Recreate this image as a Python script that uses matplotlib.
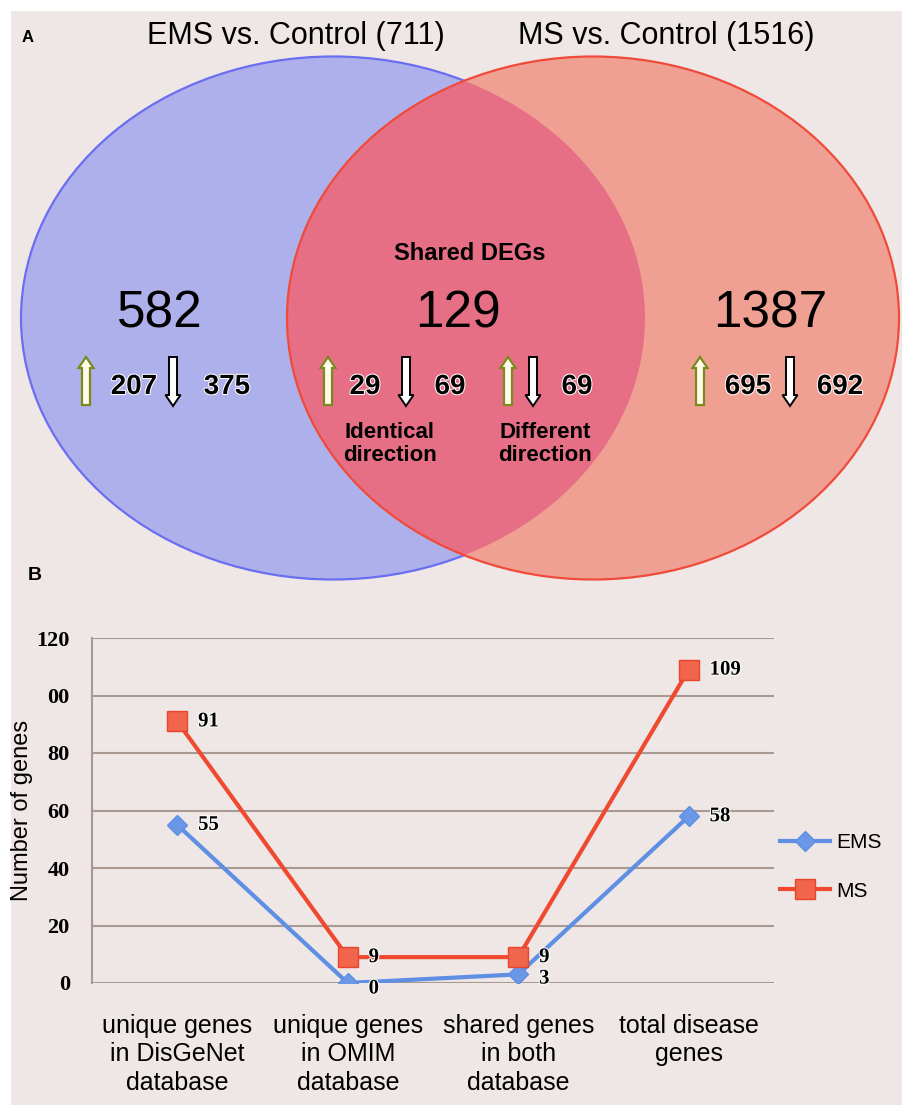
import matplotlib.pyplot as plt
import matplotlib.patheffects as pe
from matplotlib.patches import Ellipse, FancyArrow, Rectangle

# Venn counts (panel A)
ems_title = "EMS vs. Control (711)"
ms_title = "MS vs. Control (1516)"
ems_only = 582
shared = 129
ms_only = 1387
ems_up, ems_down = 207, 375
same_up, same_down = 29, 69
diff_count = 69
ms_up, ms_down = 695, 692

# Disease gene counts (panel B)
categories = ["unique genes\nin DisGeNet\ndatabase",
              "unique genes\nin OMIM\ndatabase",
              "shared genes\nin both\ndatabase",
              "total disease\ngenes"]
ems_genes = [55, 0, 3, 58]
ms_genes = [91, 9, 9, 109]
yticks = [0, 20, 40, 60, 80, 100, 120]
ytick_labels = ["0", "20", "40", "60", "80", "00", "120"]

sans = ["Liberation Sans", "DejaVu Sans"]
serif = ["Liberation Serif", "DejaVu Serif"]
halo = [pe.withStroke(linewidth=1.5, foreground="white")]

W, H = 903, 1105
fig = plt.figure(figsize=(W / 100, H / 100), dpi=100, facecolor="white")
fig.patches.append(Rectangle((11 / W, 0), 1, 1 - 11 / H, transform=fig.transFigure,
                             facecolor="#efe6e6", edgecolor="none", zorder=-10))

# ---- panel A: Venn diagram, drawn in pixel units ----
ax = fig.add_axes([0, 0, 1, 1])
ax.set_xlim(0, W)
ax.set_ylim(H, 0)
ax.axis("off")

blue = Ellipse((333, 318), 624, 523, facecolor="#adb0ea", edgecolor="#6a6ef0", lw=1.6, zorder=1)
red = Ellipse((593, 318), 612, 523, facecolor="#efa093", edgecolor="none", zorder=2)
overlap = Ellipse((593, 318), 612, 523, facecolor="#e56a84", edgecolor="none", alpha=0.9, zorder=3)
red_edge = Ellipse((593, 318), 612, 523, facecolor="none", edgecolor="#f04b3a", lw=1.6, zorder=4)
for p in (blue, red, overlap, red_edge):
    ax.add_patch(p)
overlap.set_clip_path(Ellipse((333, 318), 624, 523, transform=ax.transData))

ax.text(28, 38, "A", fontsize=12, fontweight="bold", family=sans, ha="center", va="center")
ax.text(296, 36, ems_title, fontsize=22, family=sans, ha="center", va="center")
ax.text(666, 36, ms_title, fontsize=22, family=sans, ha="center", va="center")

ax.text(470, 253, "Shared DEGs", fontsize=17, fontweight="bold", family=sans,
        ha="center", va="center", zorder=6)
for x, n in ((160, ems_only), (458, shared), (770, ms_only)):
    ax.text(x, 314, str(n), fontsize=37, family=sans, ha="center", va="center", zorder=6)


def up_arrow(x):
    ax.add_patch(FancyArrow(x, 405, 0, -48, width=8, head_width=15, head_length=11,
                            length_includes_head=True, facecolor="#fffbea",
                            edgecolor="#7a8a1e", lw=1.6, zorder=6))


def down_arrow(x):
    ax.add_patch(FancyArrow(x, 357, 0, 49, width=8, head_width=15, head_length=11,
                            length_includes_head=True, facecolor="white",
                            edgecolor="black", lw=1.4, zorder=6))


for x in (86, 328, 508, 700):
    up_arrow(x)
for x in (173, 406, 533, 790):
    down_arrow(x)

for x, n in ((134, ems_up), (227, ems_down), (365, same_up), (450, same_down),
             (577, diff_count), (748, ms_up), (840, ms_down)):
    ax.text(x, 387, str(n), fontsize=20, fontweight="bold", family=sans,
            ha="center", va="center", zorder=7, path_effects=halo)

ax.text(390, 444, "Identical\ndirection", fontsize=16, fontweight="bold", family=sans,
        ha="center", va="center", linespacing=1.15, zorder=7)
ax.text(545, 444, "Different\ndirection", fontsize=16, fontweight="bold", family=sans,
        ha="center", va="center", linespacing=1.15, zorder=7)

ax.text(35, 575, "B", fontsize=14, fontweight="bold", family=sans, ha="center", va="center")

# ---- panel B: line chart ----
bx = fig.add_axes([92 / W, 1 - 983 / H, 682 / W, 345 / H])
bx.set_facecolor("none")
xs = list(range(len(categories)))
bx.plot(xs, ems_genes, color="#5f8fe3", lw=3, marker="D", markersize=10,
        markerfacecolor="#6a97e6", markeredgecolor="#5f8fe3", label="EMS", zorder=3)
bx.plot(xs, ms_genes, color="#ef4a30", lw=3, marker="s", markersize=14,
        markerfacecolor="#f0654c", markeredgecolor="#e8452d", label="MS", zorder=4)

label_dy = {(0, 1): -4, (0, 2): -3}
for s, vals in enumerate((ems_genes, ms_genes)):
    for i, v in enumerate(vals):
        dy = label_dy.get((s, i), 0)
        bx.annotate(str(v), (i, v), xytext=(15, dy), textcoords="offset points",
                    fontsize=15, fontweight="bold", family=serif, ha="left", va="center",
                    path_effects=halo, zorder=5)

bx.set_xlim(-0.5, len(categories) - 0.5)
bx.set_ylim(0, 120)
bx.set_yticks(yticks)
bx.set_yticklabels(ytick_labels, fontsize=16, fontweight="bold", family=serif)
bx.set_xticks(xs)
bx.set_xticklabels(categories, fontsize=18, family=sans, linespacing=1.25)
bx.tick_params(length=0)
bx.tick_params(axis="y", pad=16)
bx.tick_params(axis="x", pad=22)
bx.grid(axis="y", color="#a89992", lw=1.5)
bx.set_axisbelow(True)
for side in ("top", "right", "bottom"):
    bx.spines[side].set_visible(False)
bx.spines["left"].set_color("#a89992")
bx.spines["left"].set_linewidth(1.5)
bx.set_ylabel("Number of genes", fontsize=17, family=sans)
bx.yaxis.set_label_coords(-59 / 682, 0.5)

bx.legend(loc="center left", bbox_to_anchor=(780 / W, 1 - 867 / H), bbox_transform=fig.transFigure,
          frameon=False, borderpad=0, borderaxespad=0, handlelength=2.4, handletextpad=0.3,
          labelspacing=1.4, prop={"family": sans, "size": 15})

fig.savefig("out.png", dpi=100, facecolor=fig.get_facecolor())
